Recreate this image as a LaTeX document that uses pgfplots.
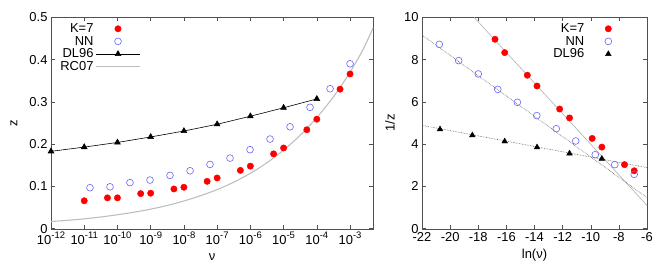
\documentclass[border=0pt]{standalone}
\usepackage{fontspec}
\setmainfont{Liberation Sans}
\usepackage{pgfplots}
\pgfplotsset{compat=1.18}
\definecolor{nnblue}{RGB}{100,100,250}
\definecolor{rcgray}{RGB}{190,190,190}
\definecolor{bordergray}{RGB}{80,80,80}
\definecolor{fitdark}{RGB}{90,90,90}
\definecolor{fitlight}{RGB}{175,175,175}
\newcommand{\myfont}{\fontsize{13}{14.5}\selectfont}
\newcommand{\tp}[1]{10\raisebox{6bp}{\fontsize{9.5}{10}\selectfont #1}}
\pgfplotsset{
  leg/.style={legend image code/.code={\draw[mark repeat=2,mark phase=2,##1] plot coordinates {(0bp,0bp) (22bp,0bp) (44bp,0bp)};}},
  legm/.style={legend image code/.code={\node[draw=none, fill=none, inner sep=0pt, outer sep=0pt, minimum width=44bp, minimum height=1bp, anchor=west] at (0bp,0bp) {};\draw[##1] plot coordinates {(22bp,0bp)};}},
  myaxis/.style={
    scale only axis, height=211.4bp,
    font=\myfont,
    tick label style={font=\myfont},
    label style={font=\myfont},
    axis line style={bordergray}, tick style={bordergray, line width=0.5pt},
    major tick length=4bp,
    /pgf/number format/assume math mode=true,
    legend style={draw=none, fill=none, font=\myfont, row sep=-1.8bp},
    legend cell align=right, legend plot pos=right,
  }
}
\begin{document}
\begin{tikzpicture}[font=\myfont]
\useasboundingbox (-51bp,-45.3bp) rectangle (613bp,228.7bp);
\begin{axis}[myaxis,
  at={(0bp,0bp)}, anchor=south west,
  width=322.3bp,
  xmode=log, log basis x=10,
  xmin=1e-12, xmax=5e-3,
  ymin=0, ymax=0.5,
  xtick={1e-12,1e-11,1e-10,1e-9,1e-8,1e-7,1e-6,1e-5,1e-4,1e-3},
  xticklabels={\tp{-12},\tp{-11},\tp{-10},\tp{-9},\tp{-8},\tp{-7},\tp{-6},\tp{-5},\tp{-4},\tp{-3}},
  xminorticks=false,
  ytick={0,0.1,0.2,0.3,0.4,0.5},
  yticklabels={0,0.1,0.2,0.3,0.4,0.5},
  xlabel={ν}, ylabel={z},
  x label style={at={(axis description cs:0.5,-0.134)}, anchor=center},
  y label style={at={(axis description cs:-0.115,0.5)}, anchor=center},
  legend style={at={(axis description cs:0.013,0.99)}, anchor=north west},
]
\addplot[only marks, mark=*, mark size=3.2bp, color=red, legm] coordinates {
(1e-11,0.066) (5e-11,0.073) (1e-10,0.073) (5e-10,0.083) (1e-9,0.084)
(5e-9,0.094) (1e-8,0.098) (5e-8,0.112) (1e-7,0.120) (5e-7,0.138)
(1e-6,0.148) (5e-6,0.177) (1e-5,0.191) (5e-5,0.234) (1e-4,0.259)
(5e-4,0.330) (1e-3,0.366)};
\addlegendentry{K=7}
\addplot[only marks, mark=o, mark size=3.4bp, color=nnblue, line width=0.6pt, legm] coordinates {
(1.49e-11,0.097) (5.96e-11,0.099) (2.38e-10,0.109) (9.54e-10,0.115)
(3.81e-9,0.126) (1.53e-8,0.137) (6.10e-8,0.152) (2.44e-7,0.167)
(9.77e-7,0.187) (3.91e-6,0.212) (1.5625e-5,0.241) (6.25e-5,0.287)
(2.5e-4,0.331) (1e-3,0.390)};
\addlegendentry{NN}
\addplot[black, line width=0.6pt, mark=triangle*, mark size=3.3bp, mark options={solid}, leg] coordinates {
(1e-12,0.183) (1e-11,0.193) (1e-10,0.204) (1e-9,0.217) (1e-8,0.231)
(1e-7,0.247) (1e-6,0.266) (1e-5,0.286) (1e-4,0.307)};
\addlegendentry{DL96}
\addplot[rcgray, line width=1.1pt, smooth, leg] coordinates {
(1e-12,0.0170) (3.16e-12,0.0198) (1e-11,0.0233) (3.16e-11,0.0277) (1e-10,0.0330)
(3.16e-10,0.0390) (1e-9,0.0462) (3.16e-9,0.0550) (1e-8,0.0655) (3.16e-8,0.0780)
(1e-7,0.0925) (3.16e-7,0.110) (1e-6,0.131) (3.16e-6,0.156) (1e-5,0.186)
(3.16e-5,0.221) (1e-4,0.263) (3.16e-4,0.312) (1e-3,0.370) (2.5e-3,0.425) (5e-3,0.476)};
\addlegendentry{RC07}
\end{axis}

\begin{axis}[myaxis,
  at={(371bp,0bp)}, anchor=south west,
  width=225bp,
  xmin=-22, xmax=-6, ymin=0, ymax=10,
  xtick={-22,-20,...,-6}, ytick={0,2,...,10},
  xlabel={ln(ν)}, ylabel={1/z},
  x label style={at={(axis description cs:0.5,-0.127)}, anchor=center},
  y label style={at={(axis description cs:-0.142,0.5)}, anchor=center},
  legend style={at={(axis description cs:0.94,0.99)}, anchor=north east},
]
\addplot[only marks, mark=*, mark size=3.2bp, color=red, legm] coordinates {
(-16.81,8.96) (-16.12,8.33) (-14.51,7.26) (-13.82,6.75) (-12.21,5.66)
(-11.51,5.24) (-9.90,4.27) (-9.21,3.86) (-7.60,3.03) (-6.91,2.74)};
\addlegendentry{K=7}
\addplot[only marks, mark=o, mark size=3.4bp, color=nnblue, line width=0.6pt, legm] coordinates {
(-20.77,8.72) (-19.39,7.95) (-18.00,7.32) (-16.61,6.59) (-15.22,5.98)
(-13.84,5.35) (-12.45,4.73) (-11.07,4.15) (-9.68,3.50) (-8.29,3.03) (-6.91,2.57)};
\addlegendentry{NN}
\addplot[only marks, mark=triangle*, mark size=3.3bp, color=black, legm] coordinates {
(-20.72,4.70) (-18.42,4.42) (-16.12,4.13) (-13.82,3.85) (-11.51,3.56) (-9.21,3.31)};
\addlegendentry{DL96}
\addplot[fitlight, line width=0.6pt, forget plot] coordinates {(-18.3,10) (-6,1.1)};
\addplot[fitdark, line width=0.6pt, densely dotted, forget plot] coordinates {(-22,9.16) (-6,1.47)};
\addplot[fitdark, line width=0.6pt, densely dotted, forget plot] coordinates {(-22,4.89) (-6,2.89)};
\end{axis}
\end{tikzpicture}
\end{document}
